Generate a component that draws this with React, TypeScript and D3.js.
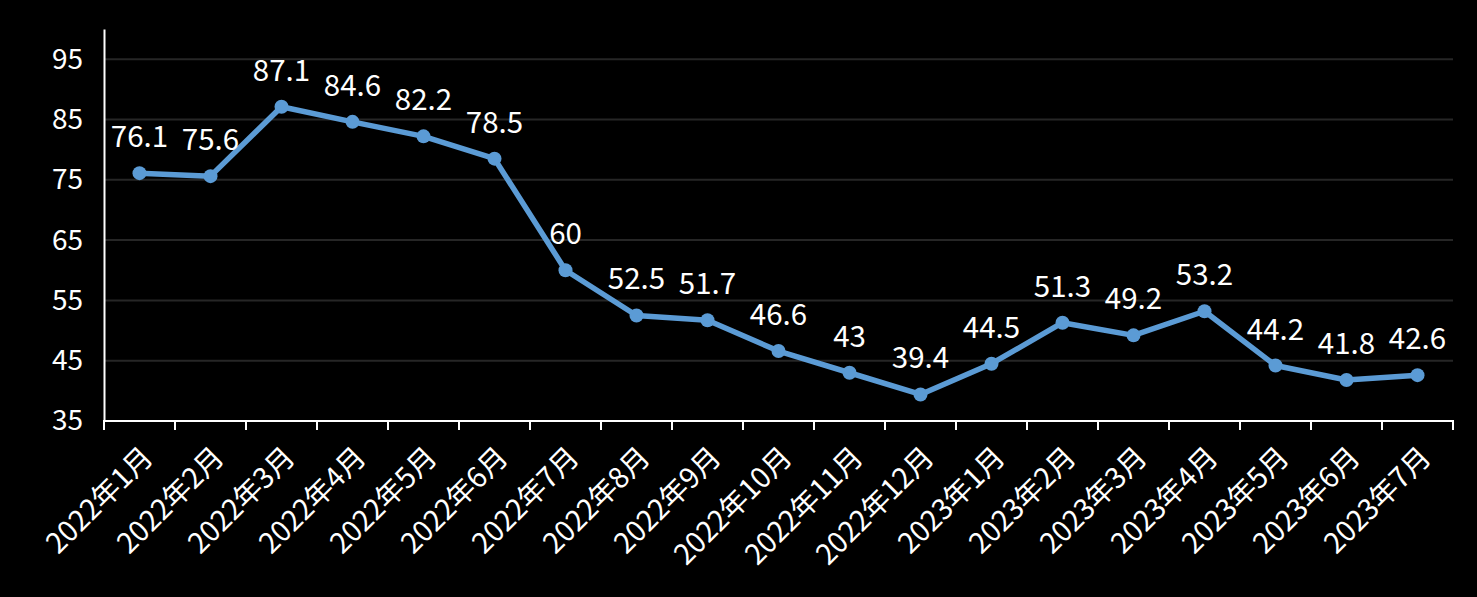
import { useEffect, useRef } from 'react'
import * as d3 from 'd3'

const categories = [
  '2022年1月', '2022年2月', '2022年3月', '2022年4月', '2022年5月', '2022年6月',
  '2022年7月', '2022年8月', '2022年9月', '2022年10月', '2022年11月', '2022年12月',
  '2023年1月', '2023年2月', '2023年3月', '2023年4月', '2023年5月', '2023年6月', '2023年7月',
]
const values = [76.1, 75.6, 87.1, 84.6, 82.2, 78.5, 60, 52.5, 51.7, 46.6, 43, 39.4, 44.5, 51.3, 49.2, 53.2, 44.2, 41.8, 42.6]
const yTicks = [35, 45, 55, 65, 75, 85, 95]

const FONT = '"Noto Sans CJK SC", "Noto Sans", sans-serif'

export default function App() {
  const svgRef = useRef<SVGSVGElement>(null)
  const width = 1477
  const height = 597

  useEffect(() => {
    if (!svgRef.current) return
    const svg = d3.select(svgRef.current)
    svg.selectAll('*').remove()

    const left = 104, right = 1453, top = 29, bottom = 421

    const x = d3.scaleBand<string>().domain(categories).range([left, right]).padding(0)
    const y = d3.scaleLinear().domain([35, 100]).range([bottom, top])
    const cx = (c: string) => (x(c) as number) + x.bandwidth() / 2

    svg.append('rect').attr('width', width).attr('height', height).attr('fill', '#000')

    // Grid
    svg.append('g')
      .selectAll('line')
      .data(yTicks.filter(t => t > 35))
      .join('line')
      .attr('x1', left).attr('x2', right)
      .attr('y1', d => y(d)).attr('y2', d => y(d))
      .attr('stroke', '#262626').attr('stroke-width', 2)

    // Y axis
    const yAxis = svg.append('g')
      .attr('transform', `translate(${left},0)`)
      .call(d3.axisLeft(y).tickValues(yTicks).tickSize(0).tickPadding(21))
    yAxis.select('.domain').attr('stroke', '#fff').attr('stroke-width', 2)
    yAxis.selectAll('.tick text')
      .attr('fill', '#fff').attr('font-size', 28).attr('font-family', FONT)

    // X axis
    const xAxis = svg.append('g').attr('transform', `translate(0,${bottom})`)
    xAxis.append('line')
      .attr('x1', left - 1).attr('x2', right + 1)
      .attr('stroke', '#fff').attr('stroke-width', 2)
    const bounds = categories.map(c => x(c) as number).concat([right])
    xAxis.selectAll('line.tk')
      .data(bounds)
      .join('line')
      .attr('class', 'tk')
      .attr('x1', d => d).attr('x2', d => d)
      .attr('y1', 0).attr('y2', 9)
      .attr('stroke', '#fff').attr('stroke-width', 2)
    xAxis.selectAll('text')
      .data(categories)
      .join('text')
      .attr('transform', d => `translate(${cx(d) + 8},${31}) rotate(-45)`)
      .attr('text-anchor', 'end')
      .attr('dy', '0.35em')
      .attr('fill', '#fff')
      .attr('font-size', 28.5)
      .attr('font-family', FONT)
      .text(d => d)

    // Line
    const line = d3.line<number>()
      .x((_, i) => cx(categories[i]))
      .y(d => y(d))
    svg.append('path')
      .datum(values)
      .attr('d', line)
      .attr('fill', 'none')
      .attr('stroke', '#5b9bd5')
      .attr('stroke-width', 5.5)
      .attr('stroke-linejoin', 'round')

    svg.append('g')
      .selectAll('circle')
      .data(values)
      .join('circle')
      .attr('cx', (_, i) => cx(categories[i]))
      .attr('cy', d => y(d))
      .attr('r', 7)
      .attr('fill', '#5b9bd5')

    // Data labels
    svg.append('g')
      .selectAll('text')
      .data(values)
      .join('text')
      .attr('x', (_, i) => cx(categories[i]))
      .attr('y', d => y(d) - 26)
      .attr('text-anchor', 'middle')
      .attr('fill', '#fff')
      .attr('font-size', 29.5)
      .attr('font-family', FONT)
      .text(d => String(d))
  }, [])

  return (
    <svg
      ref={svgRef}
      width={width}
      height={height}
      style={{ position: 'absolute', left: 0, top: 0, display: 'block' }}
    />
  )
}
